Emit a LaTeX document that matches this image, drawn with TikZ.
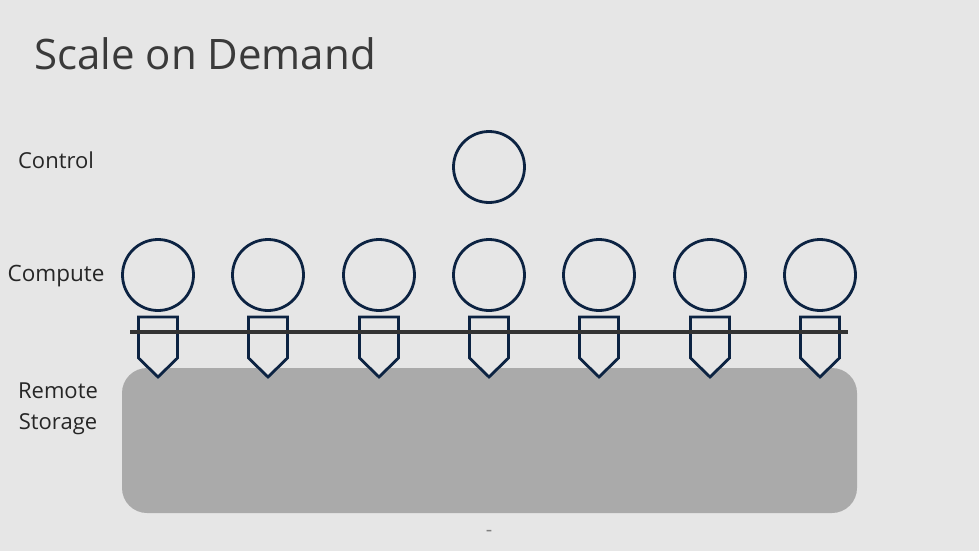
\documentclass[tikz,border=0pt]{standalone}
\usepackage{fontspec}
\setmainfont{Open Sans}
\definecolor{bg}{HTML}{E6E6E6}
\definecolor{navy}{HTML}{0C2342}
\definecolor{store}{HTML}{AAAAAA}
\definecolor{bus}{HTML}{333333}
\definecolor{txt}{HTML}{262626}
\definecolor{ttl}{HTML}{3A3A3A}
\tikzset{
  node circ/.style={circle, draw=navy, line width=2.8pt, minimum size=71pt, inner sep=0pt},
  shield/.style={draw=navy, fill=bg, line width=2.8pt, line join=miter},
  lbl/.style={text=txt, font=\fontsize{22}{26}\selectfont, inner sep=0pt, align=center},
}
\begin{document}
\begin{tikzpicture}[x=1pt,y=-1pt]
\fill[bg] (0,0) rectangle (979,551);
\useasboundingbox (0,0) rectangle (979,551);
\node[anchor=base west, inner sep=0pt, text=ttl, font=\fontsize{42}{48}\selectfont] (title) at (34,70) {Scale on Demand};
\node[lbl] (lctrl) at (56,160) {Control};
\node[lbl, font=\fontsize{22.5}{26}\selectfont] (lcomp) at (56,276) {Compute};
\node[lbl, font=\fontsize{22}{31}\selectfont] (lstore) at (58,409) {Remote\\Storage};
\fill[store, rounded corners=25pt] (122,368) rectangle (857,513);
\node[node circ] (ctrl) at (489,167) {};
\foreach \i/\x in {1/158,2/268,3/379,4/489,5/599,6/710,7/820}{
  \node[node circ] (c\i) at (\x,275) {};
  \draw[shield] (\x-19.5,317) -- (\x+19.5,317) -- (\x+19.5,358) -- (\x,377) -- (\x-19.5,358) -- cycle;
}
\coordinate (busL) at (130,332);
\coordinate (busR) at (848,332);
\draw[bus, line width=3.2pt] (busL) -- (busR);
\node[text=gray, font=\fontsize{20}{22}\selectfont, inner sep=0pt] (dash) at (489,533) {-};
\end{tikzpicture}
\end{document}
